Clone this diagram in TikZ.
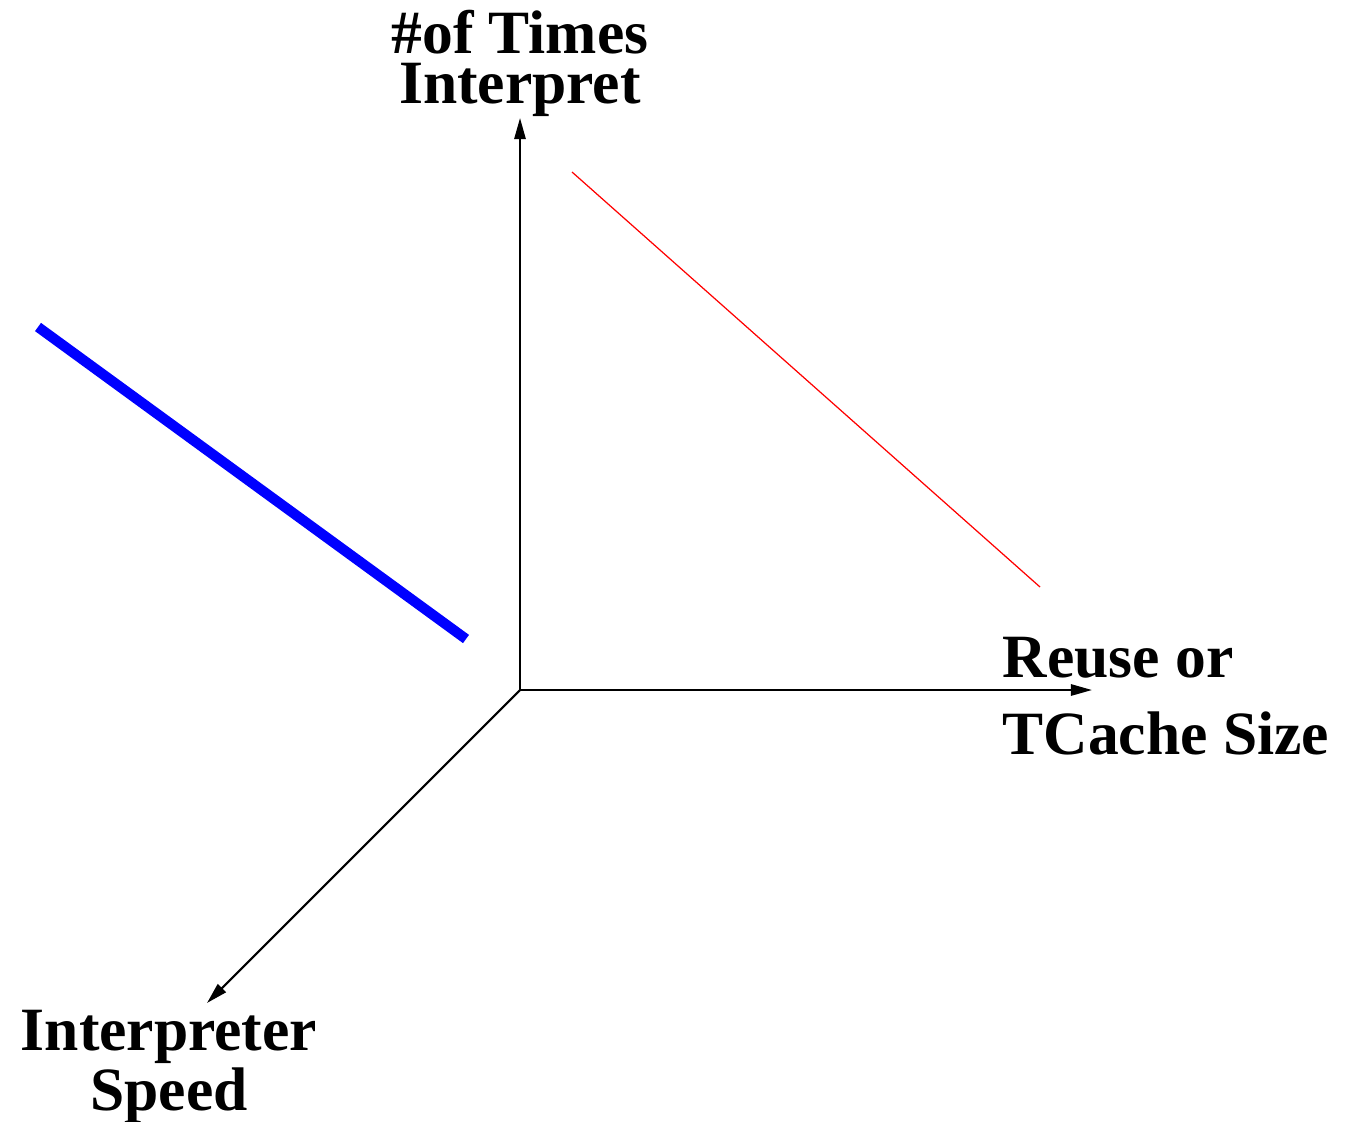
\documentclass[tikz,border=0pt]{standalone}
\usepackage{fontspec}
\setmainfont{Liberation Serif}
\usepackage{xcolor}
\usetikzlibrary{arrows.meta}

\begin{document}
\begin{tikzpicture}[
  x=0.01cm, y=-0.01cm,
  >={Triangle[length=6pt,width=3.2pt]},
  axis/.style={->, line width=0.6pt},
  axislabel/.style={font=\fontsize{17.5}{14.2}\selectfont\bfseries, inner sep=0pt},
  widelabel/.style={font=\fontsize{17.5}{22}\selectfont\bfseries, inner sep=0pt},
  bluebar/.style={line width=2.9pt, blue},
  redline/.style={line width=0.35pt, red},
]
\useasboundingbox (0,0) rectangle (1355,1121);

% origin and axis ends
\coordinate (O)   at (520, 690);
\coordinate (UP)  at (520, 118);
\coordinate (RT)  at (1092, 690);
\coordinate (DL)  at (207, 1003);

% axes
\draw[axis] (O) -- (UP);
\draw[axis] (O) -- (RT);
\draw[axis] (O) -- (DL);

% labels
\node[axislabel, align=center] (TIMES) at (520, 63.5) {\#of Times\\Interpret};
\node[widelabel, align=left, anchor=west] (REUSE) at (1002, 696) {Reuse or\\TCache Size};
\node[axislabel, align=center] (SPEED) at (169, 1067) {Interpreter\\Speed};

% the two lines
\coordinate (B1) at (38, 327);
\coordinate (B2) at (466, 639);
\coordinate (R1) at (572, 172);
\coordinate (R2) at (1040, 587);
\draw[bluebar] (B1) -- (B2);
\draw[redline] (R1) -- (R2);

\end{tikzpicture}
\end{document}
